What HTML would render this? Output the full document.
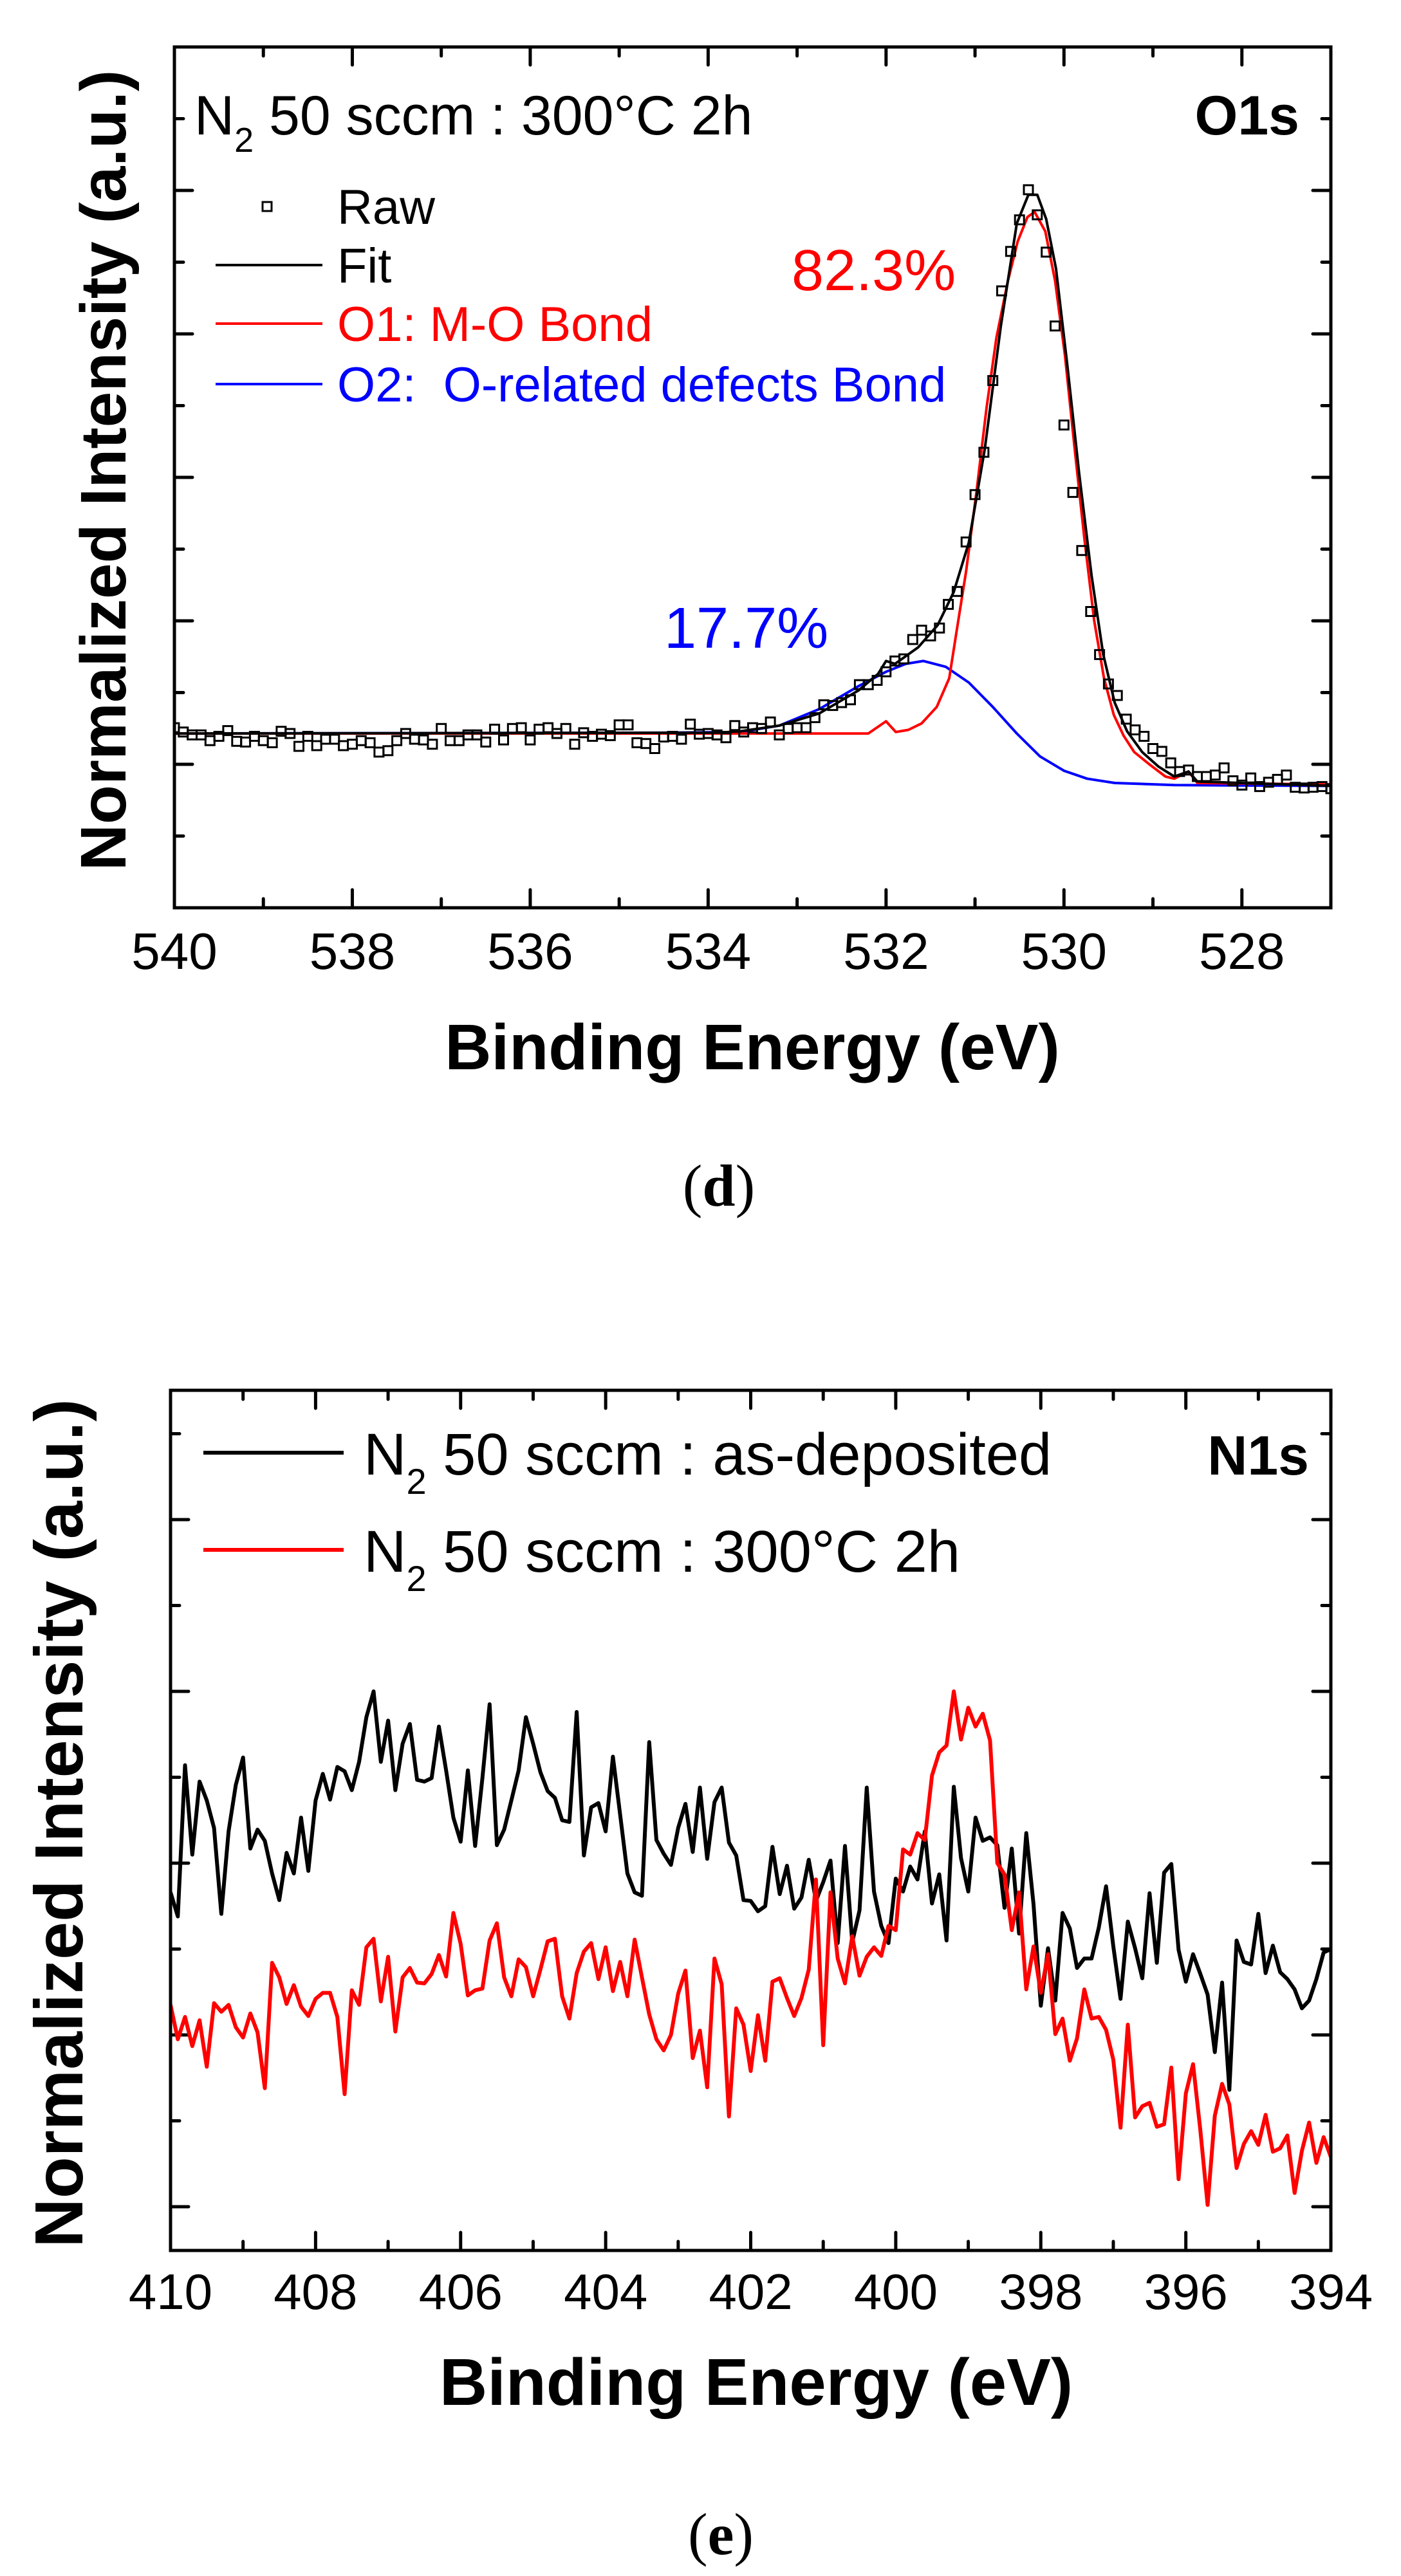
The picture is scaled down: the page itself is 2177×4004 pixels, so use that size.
<!DOCTYPE html>
<html><head><meta charset="utf-8"><title>XPS O1s and N1s spectra</title>
<style>
html,body{margin:0;padding:0;background:#fff;}
svg{display:block;}
text{font-family:"Liberation Sans",Arial,sans-serif;}
.cap{font-family:"Liberation Serif",serif;}
</style></head>
<body>
<svg id="fig" xmlns="http://www.w3.org/2000/svg" width="2177" height="4004" viewBox="0 0 2177 4004">
<rect x="0" y="0" width="2177" height="4004" fill="#fff"/>
<defs>
<clipPath id="clipD"><rect x="271" y="73" width="1797" height="1338"/></clipPath>
<clipPath id="clipE"><rect x="265" y="2161" width="1803" height="1337"/></clipPath>
</defs>

<!-- Panel d -->
<g id="panelD">
<g id="dTicks"></g>
<g id="dData" clip-path="url(#clipD)"></g>
<rect x="271" y="73" width="1797" height="1338" fill="none" stroke="#000" stroke-width="5"/>
<g id="dTickLabels" font-size="80" text-anchor="middle"></g>
<text x="1169" y="1662" font-size="100" font-weight="bold" text-anchor="middle">Binding Energy (eV)</text>
<text transform="translate(195,731) rotate(-90)" font-size="100" font-weight="bold" text-anchor="middle">Normalized Intensity (a.u.)</text>
<text x="302" y="209" font-size="86">N<tspan font-size="54" dy="27">2</tspan><tspan dy="-27"> 50 sccm : 300°C 2h</tspan></text>
<text x="2019" y="209" font-size="86" font-weight="bold" text-anchor="end">O1s</text>
<g>
<g>
<rect x="408" y="314" width="14" height="14" fill="none" stroke="#000" stroke-width="3"/>
<text x="524" y="348" font-size="76">Raw</text></g>
<g>
<line x1="335" y1="412" x2="501" y2="412" stroke="#000" stroke-width="4"/>
<text x="524" y="439" font-size="76">Fit</text></g>
<g>
<line x1="335" y1="503" x2="501" y2="503" stroke="#f00" stroke-width="4"/>
<text x="524" y="530" font-size="76" fill="#f00">O1: M-O Bond</text></g>
<g>
<line x1="335" y1="597" x2="501" y2="597" stroke="#00f" stroke-width="4"/>
<text x="524" y="624" font-size="76" fill="#00f">O2:&#160; O-related defects Bond</text></g>
</g>
<text x="1230" y="451" font-size="90" fill="#f00">82.3%</text>
<text x="1032" y="1007" font-size="90" fill="#00f">17.7%</text>
<text class="cap" x="1117" y="1874" font-size="92" text-anchor="middle">(<tspan font-weight="bold">d</tspan>)</text>
</g>

<!-- Panel e -->
<g id="panelE">
<g id="eTicks"></g>
<g id="eData" clip-path="url(#clipE)"></g>
<rect x="265" y="2161" width="1803" height="1337" fill="none" stroke="#000" stroke-width="5"/>
<g id="eTickLabels" font-size="78" text-anchor="middle"></g>
<text x="1175" y="3738" font-size="103" font-weight="bold" text-anchor="middle">Binding Energy (eV)</text>
<text transform="translate(128,2834) rotate(-90)" font-size="106" font-weight="bold" text-anchor="middle">Normalized Intensity (a.u.)</text>
<g>
<g>
<line x1="316" y1="2258" x2="534" y2="2258" stroke="#000" stroke-width="6"/>
<text x="565" y="2292" font-size="92">N<tspan font-size="56" dy="30">2</tspan><tspan dy="-30"> 50 sccm : as-deposited</tspan></text></g>
<g>
<line x1="316" y1="2409" x2="534" y2="2409" stroke="#f00" stroke-width="6"/>
<text x="565" y="2443" font-size="92">N<tspan font-size="56" dy="30">2</tspan><tspan dy="-30"> 50 sccm : 300°C 2h</tspan></text></g>
</g>
<text x="2034" y="2292" font-size="86" font-weight="bold" text-anchor="end">N1s</text>
<text class="cap" x="1120" y="3970" font-size="92" text-anchor="middle">(<tspan font-weight="bold">e</tspan>)</text>
</g>
</svg>

<script>
// ---------- Panel d (O1s) data ----------
const o1sRawStart = 540.0;
const o1sRawStep = 0.1;
const o1sRawIntensity = [
2.51,2.45,2.41,2.41,2.33,2.39,2.47,2.32,2.31,2.39,2.33,2.30,2.46,2.43,2.25,2.39,2.26,2.35,2.35,2.26,
2.28,2.33,2.30,2.17,2.19,2.33,2.43,2.35,2.34,2.28,2.50,2.33,2.33,2.41,2.41,2.31,2.49,2.34,2.50,2.51,
2.34,2.49,2.51,2.43,2.50,2.28,2.44,2.39,2.42,2.40,2.55,2.55,2.30,2.29,2.22,2.38,2.39,2.35,2.56,2.42,
2.43,2.41,2.37,2.54,
2.45,2.51,2.50,2.59,2.41,2.50,2.51,2.51,2.65,2.83,2.82,2.86,2.90,3.11,3.11,3.17,3.29,3.44,3.47,3.74,
3.87,3.79,3.90,4.23,4.41,5.10,5.76,6.35,7.35,8.60,9.15,9.59,10.01,9.66,9.14,8.11,6.73,5.79,4.98,4.13,
3.53,3.12,2.96,2.63,2.48,2.39,2.22,2.18,2.02,1.90,1.92,1.83,1.83,1.85,1.95,1.77,1.71,1.81,1.69,1.75,
1.79,1.85,1.68,1.67,1.68,1.69,1.66];

const o1sFitEnergy = [540,533.9,533.64,533.2,532.75,532.31,532.09,532.0,531.9,531.64,531.42,531.24,531.07,530.89,530.71,530.53,530.40,530.30,530.2,530.09,529.96,529.83,529.69,529.56,529.43,529.29,529.12,528.94,528.76,528.6,528.5,527.0];
const o1sFitIntensity = [2.43,2.44,2.46,2.54,2.71,3.03,3.26,3.44,3.40,3.63,3.94,4.40,5.09,6.40,8.11,9.54,9.94,9.94,9.60,8.91,7.54,6.06,4.63,3.54,2.86,2.46,2.17,1.97,1.83,1.90,1.76,1.70];

const o1PeakEnergy = [540,532.2,532.0,531.89,531.75,531.6,531.43,531.29,531.21,531.1,530.98,530.87,530.76,530.63,530.52,530.41,530.33,530.21,530.1,529.99,529.88,529.77,529.66,529.55,529.44,529.33,529.21,529.04,528.86,528.76,528.6,528.5,527.0];
const o1PeakIntensity = [2.43,2.43,2.60,2.45,2.48,2.57,2.80,3.20,3.83,4.69,5.83,6.97,7.94,8.74,9.29,9.63,9.70,9.43,8.74,7.71,6.40,5.14,4.00,3.20,2.69,2.40,2.17,2.00,1.83,1.80,1.90,1.74,1.72];

const o2PeakEnergy = [540,534.5,533.64,533.2,532.75,532.31,532.0,531.78,531.58,531.33,531.07,530.8,530.53,530.27,530.0,529.74,529.43,528.76,527.0];
const o2PeakIntensity = [2.43,2.44,2.45,2.54,2.77,3.09,3.29,3.40,3.44,3.36,3.14,2.80,2.43,2.11,1.91,1.80,1.74,1.71,1.70];

const o1sXTicks = [540,538,536,534,532,530,528];

// ---------- Panel e (N1s) data ----------
const n1sStart = 410.0;
const n1sStep = 0.1;
const n1sAsDeposited = [
3.66,3.38,5.14,4.10,4.95,4.73,4.41,3.41,4.37,4.91,5.23,4.17,4.39,4.26,3.88,3.57,4.12,3.88,4.53,3.91,
4.73,5.04,4.74,5.12,5.07,4.85,5.18,5.70,6.00,5.18,5.66,4.85,5.39,5.62,4.97,4.95,4.99,5.59,5.08,4.53,
4.25,5.08,4.20,4.99,5.85,4.21,4.39,4.73,5.08,5.70,5.39,5.06,4.84,4.76,4.50,4.48,5.76,4.09,4.65,4.70,
4.37,5.24,4.56,3.88,3.66,3.62,5.41,4.27,4.11,3.98,4.41,4.69,4.13,4.88,4.05,4.71,4.88,4.24,4.09,3.57,
3.56,3.44,3.50,4.19,3.64,3.97,3.47,3.60,4.04,3.56,3.78,4.03,3.07,4.20,3.08,3.45,4.88,3.67,3.27,3.07,
3.82,3.67,3.96,3.81,4.37,3.53,3.87,3.10,4.89,4.06,3.67,4.53,4.26,4.30,4.21,3.48,4.17,3.18,4.35,3.52,
2.34,3.01,2.40,3.42,3.24,2.78,2.89,2.89,3.25,3.73,3.03,2.42,3.32,3.01,2.66,3.65,2.84,3.89,3.99,2.99,
2.62,2.94,2.71,2.47,1.80,2.61,1.36,3.10,2.85,2.82,3.41,2.72,3.04,2.73,2.65,2.53,2.31,2.40,2.65,2.96,3.00];
const n1sAnnealed = [
2.35,1.95,2.21,1.87,2.17,1.63,2.37,2.27,2.35,2.09,1.97,2.25,2.03,1.38,2.84,2.67,2.36,2.58,2.33,2.22,
2.42,2.49,2.49,2.21,1.31,2.52,2.35,3.02,3.12,2.39,2.91,2.04,2.67,2.78,2.61,2.60,2.71,2.93,2.68,3.42,
3.06,2.46,2.52,2.54,3.10,3.30,2.67,2.45,2.88,2.79,2.45,2.76,3.09,3.12,2.45,2.19,2.72,2.97,3.07,2.65,
3.02,2.51,2.85,2.45,3.11,2.67,2.24,1.95,1.82,2.00,2.48,2.75,1.73,2.05,1.39,2.89,2.59,1.05,2.31,2.12,
1.58,2.23,1.70,2.62,2.66,2.43,2.22,2.43,2.76,3.81,1.88,3.66,2.89,2.60,3.15,2.69,2.91,3.02,2.92,3.27,
3.22,4.16,4.10,4.35,4.27,5.02,5.29,5.37,6.00,5.44,5.81,5.59,5.74,5.43,4.00,3.87,3.22,3.66,2.53,3.03,
2.49,2.94,2.01,2.19,1.70,1.96,2.53,2.19,2.21,2.06,1.71,0.92,2.12,1.04,1.17,1.21,0.93,0.96,1.62,0.32,
1.32,1.66,0.89,0.02,1.06,1.43,1.19,0.45,0.73,0.88,0.72,1.07,0.64,0.68,0.83,0.16,0.65,0.98,0.51,0.81,0.58];

const n1sXTicks = [410,408,406,404,402,400,398,396,394];

// ---------- axes ----------
const NS = "http://www.w3.org/2000/svg";
function xD(e){ return 271 + (540 - e) * 138.23; }
function yD(v){ return 1411 - v * 111.5; }
function xE(e){ return 265 + (410 - e) * 112.69; }
function yE(u){ return 3430 - u * 133.5; }

function make(tag){ return document.createElementNS(NS, tag); }

function polyline(parent, xs, ys, fx, fy, color, width, name){
  const pts = [];
  for (let i = 0; i < xs.length && i < ys.length; i++) pts.push(fx(xs[i]).toFixed(1) + "," + fy(ys[i]).toFixed(1));
  const pl = make("polyline");
  pl.setAttribute("points", pts.join(" "));
  pl.setAttribute("fill", "none");
  pl.setAttribute("stroke", color);
  pl.setAttribute("stroke-width", width);
  pl.setAttribute("stroke-linejoin", "round");
  
  
  parent.appendChild(pl);
  return pl;
}

function tickLine(parent, x1, y1, x2, y2, name){
  const l = make("line");
  l.setAttribute("x1", x1); l.setAttribute("y1", y1);
  l.setAttribute("x2", x2); l.setAttribute("y2", y2);
  l.setAttribute("stroke", "#000"); l.setAttribute("stroke-width", 5);
  l.setAttribute("stroke-linecap", "round");
  
  
  parent.appendChild(l);
}

// ---------- Panel d drawing ----------
const dData = document.getElementById("dData");
const dTicks = document.getElementById("dTicks");
const dLabels = document.getElementById("dTickLabels");

for (let e = 540; e >= 527; e--) {
  const len = (e % 2 === 0) ? 28 : 14;
  const x = xD(e);
  tickLine(dTicks, x, 1411, x, 1411 - len, 'x-tick');
  tickLine(dTicks, x, 73, x, 73 + len, 'x-tick-top');
}
for (let u = 1; u <= 11; u++) {
  const len = (u % 2 === 0) ? 28 : 14;
  const y = yD(u);
  tickLine(dTicks, 271, y, 271 + len, y, 'y-tick');
  tickLine(dTicks, 2068, y, 2068 - len, y, 'y-tick-right');
}
o1sXTicks.forEach(function(e){
  const t = make("text");
  t.setAttribute("x", xD(e)); t.setAttribute("y", 1506);
  t.textContent = String(e);
  
  
  dLabels.appendChild(t);
});

const rawEnergy = o1sRawIntensity.map(function(_, i){ return o1sRawStart - o1sRawStep * i; });
polyline(dData, o2PeakEnergy, o2PeakIntensity, xD, yD, "#00f", 4, 'o2-component-curve');
polyline(dData, o1PeakEnergy, o1PeakIntensity, xD, yD, "#f00", 4, 'o1-component-curve');
polyline(dData, o1sFitEnergy, o1sFitIntensity, xD, yD, "#000", 4, 'fit-curve');
const rawGroup = make("g");


dData.appendChild(rawGroup);
for (let i = 0; i < o1sRawIntensity.length; i++) {
  const r = make("rect");
  r.setAttribute("x", (xD(rawEnergy[i]) - 7).toFixed(1));
  r.setAttribute("y", (yD(o1sRawIntensity[i]) - 7).toFixed(1));
  r.setAttribute("width", 14); r.setAttribute("height", 14);
  r.setAttribute("fill", "none"); r.setAttribute("stroke", "#000"); r.setAttribute("stroke-width", 3);
  
  
  rawGroup.appendChild(r);
}

// ---------- Panel e drawing ----------
const eData = document.getElementById("eData");
const eTicks = document.getElementById("eTicks");
const eLabels = document.getElementById("eTickLabels");

for (let e = 410; e >= 394; e--) {
  const len = (e % 2 === 0) ? 28 : 14;
  const x = xE(e);
  tickLine(eTicks, x, 3498, x, 3498 - len, 'x-tick');
  tickLine(eTicks, x, 2161, x, 2161 + len, 'x-tick-top');
}
for (let u = 0; u <= 9; u++) {
  const len = (u % 2 === 0) ? 28 : 14;
  const y = yE(u);
  tickLine(eTicks, 265, y, 265 + len, y, 'y-tick');
  tickLine(eTicks, 2068, y, 2068 - len, y, 'y-tick-right');
}
n1sXTicks.forEach(function(e){
  const t = make("text");
  t.setAttribute("x", xE(e)); t.setAttribute("y", 3589);
  t.textContent = String(e);
  
  
  eLabels.appendChild(t);
});

const n1sEnergy = n1sAsDeposited.map(function(_, i){ return n1sStart - n1sStep * i; });
const n1sEnergy2 = n1sAnnealed.map(function(_, i){ return n1sStart - n1sStep * i; });
polyline(eData, n1sEnergy, n1sAsDeposited, xE, yE, "#000", 6, 'as-deposited-line');
polyline(eData, n1sEnergy2, n1sAnnealed, xE, yE, "#f00", 6, 'annealed-line');
</script>
</body></html>
